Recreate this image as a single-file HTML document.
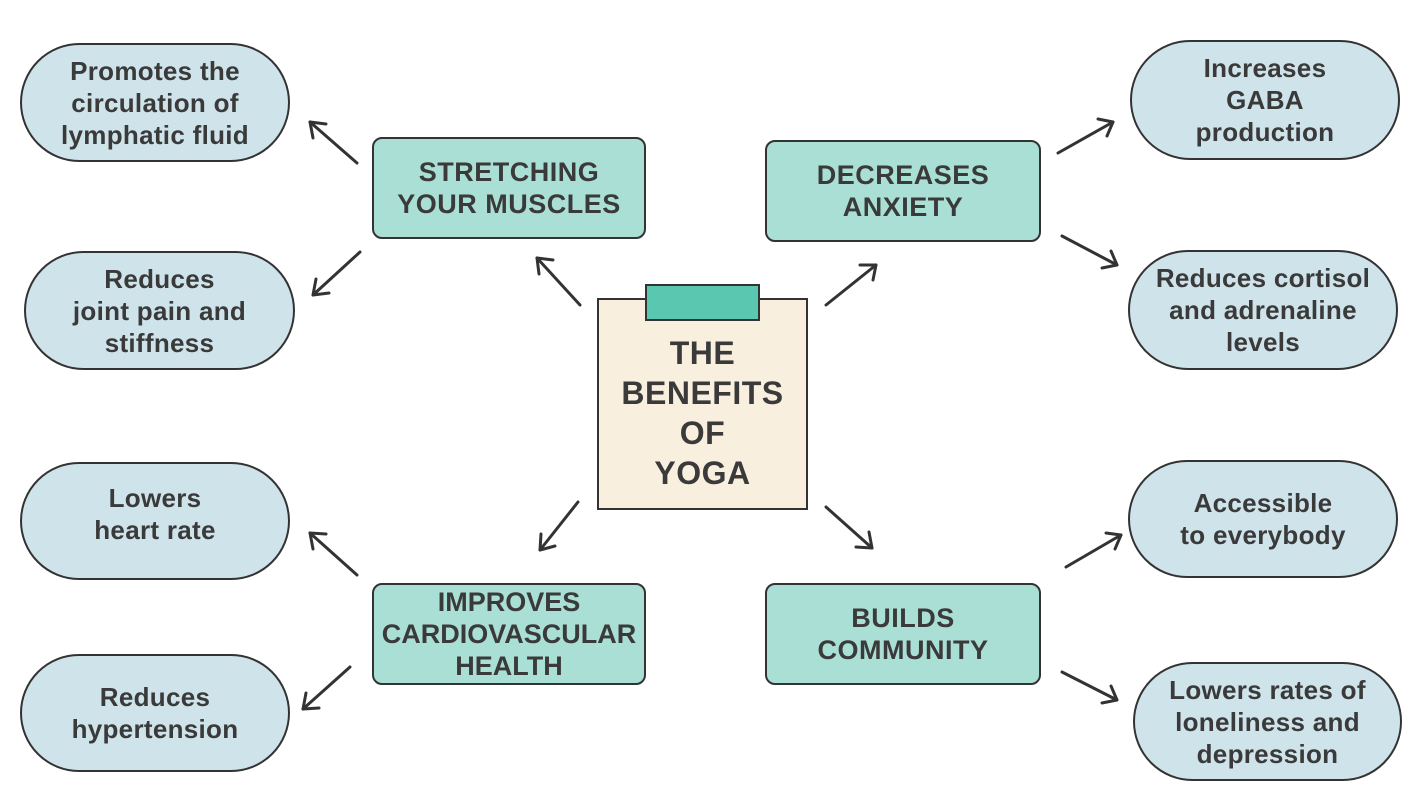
<!DOCTYPE html>
<html><head><meta charset="utf-8"><style>
body{margin:0;width:1421px;height:800px;background:#fff;position:relative;overflow:hidden;font-family:"Liberation Sans","DejaVu Sans",sans-serif;color:#3a3a3a;font-weight:bold}
.p{position:absolute;box-sizing:border-box;border:2.5px solid #333;border-radius:60px;background:#cfe3ea;display:flex;align-items:center;justify-content:center;text-align:center;font-size:26px;line-height:32px;letter-spacing:0.3px}
.t{position:absolute;box-sizing:border-box;border:2.5px solid #333;border-radius:10px;background:#a9dfd5;display:flex;align-items:center;justify-content:center;text-align:center;font-size:27px;line-height:32px;letter-spacing:0.5px}
</style></head><body>
<div class="p" style="left:20px;top:43px;width:270px;height:119px">Promotes the<br>circulation of<br>lymphatic fluid</div>
<div class="p" style="left:24px;top:251px;width:271px;height:119px">Reduces<br>joint pain and<br>stiffness</div>
<div class="p" style="left:20px;top:462px;width:270px;height:118px;padding-bottom:14px">Lowers<br>heart rate</div>
<div class="p" style="left:20px;top:654px;width:270px;height:118px">Reduces<br>hypertension</div>
<div class="p" style="left:1130px;top:40px;width:270px;height:120px">Increases<br>GABA<br>production</div>
<div class="p" style="left:1128px;top:250px;width:270px;height:120px">Reduces cortisol<br>and adrenaline<br>levels</div>
<div class="p" style="left:1128px;top:460px;width:270px;height:118px">Accessible<br>to everybody</div>
<div class="p" style="left:1133px;top:662px;width:269px;height:119px">Lowers rates of<br>loneliness and<br>depression</div>
<div class="t" style="left:372px;top:137px;width:274px;height:102px">STRETCHING<br>YOUR MUSCLES</div>
<div class="t" style="left:765px;top:140px;width:276px;height:102px">DECREASES<br>ANXIETY</div>
<div class="t" style="left:372px;top:583px;width:274px;height:102px;letter-spacing:0">IMPROVES<br>CARDIOVASCULAR<br>HEALTH</div>
<div class="t" style="left:765px;top:583px;width:276px;height:102px">BUILDS<br>COMMUNITY</div>
<div style="position:absolute;left:597px;top:298px;width:211px;height:212px;box-sizing:border-box;border:2.5px solid #333;background:#f8efdf"></div>
<div style="position:absolute;left:645px;top:284px;width:115px;height:37px;box-sizing:border-box;border:2.5px solid #333;background:#5ac8b0"></div>
<div style="position:absolute;left:597px;top:333px;width:211px;text-align:center;font-size:32px;line-height:40px;letter-spacing:0.5px">THE<br>BENEFITS<br>OF<br>YOGA</div>
<svg width="1421" height="800" style="position:absolute;left:0;top:0">
<g stroke="#333" stroke-width="3" fill="none" stroke-linecap="round">
<path d="M357,163 L310,122"/><path d="M310,122 l16,2 M310,122 l3,16"/>
<path d="M360,252 L313,295"/><path d="M313,295 l3,-16 M313,295 l16,-2"/>
<path d="M580,305 L537,258"/><path d="M537,258 l16,2 M537,258 l2,16"/>
<path d="M826,305 L876,265"/><path d="M876,265 l-16,0 M876,265 l-3,15"/>
<path d="M1058,153 L1113,122"/><path d="M1113,122 l-15,-3 M1113,122 l-6,14"/>
<path d="M1062,236 L1117,265"/><path d="M1117,265 l-6,-14 M1117,265 l-15,3"/>
<path d="M578,502 L540,550"/><path d="M540,550 l1,-16 M540,550 l15,-4"/>
<path d="M826,507 L872,548"/><path d="M872,548 l-3,-16 M872,548 l-16,-1"/>
<path d="M357,575 L310,533"/><path d="M310,533 l16,1 M310,533 l3,16"/>
<path d="M350,667 L303,709"/><path d="M303,709 l3,-16 M303,709 l16,-1"/>
<path d="M1066,567 L1121,535"/><path d="M1121,535 l-15,-2 M1121,535 l-6,14"/>
<path d="M1062,672 L1117,700"/><path d="M1117,700 l-6,-14 M1117,700 l-15,3"/>
</g></svg>
</body></html>
